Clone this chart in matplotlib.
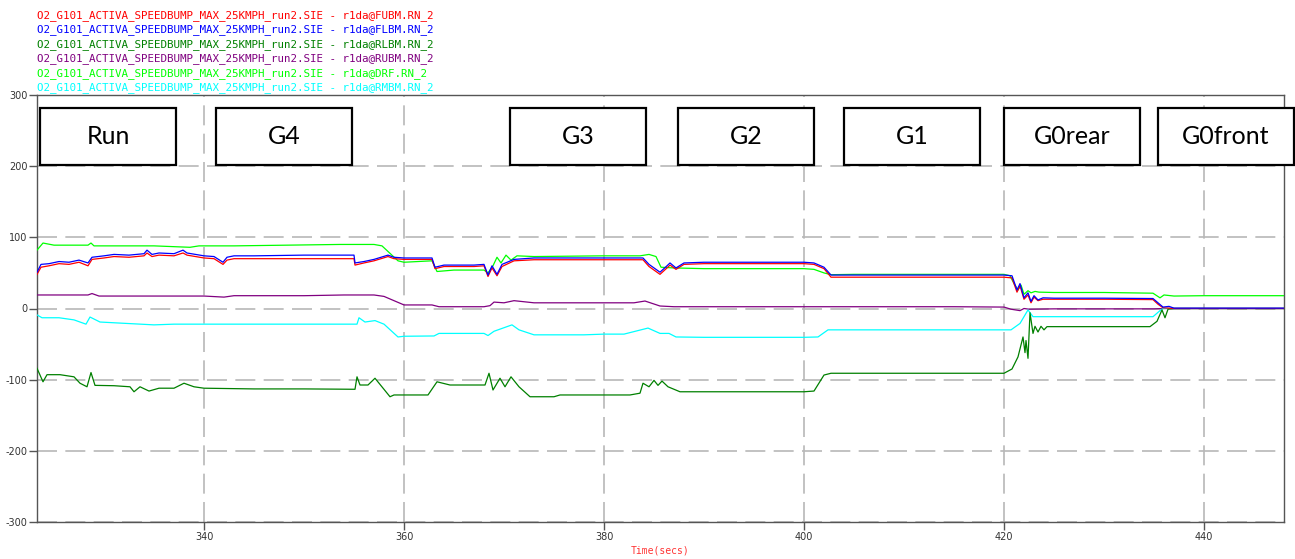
import numpy as np
import matplotlib
matplotlib.use("Agg")
import matplotlib.pyplot as plt
from matplotlib.patches import Rectangle

plt.rcParams['axes.unicode_minus'] = False

SRC = "O2_G101_ACTIVA_SPEEDBUMP_MAX_25KMPH_run2.SIE - r1da@"
channels = ["FUBM.RN_2", "FLBM.RN_2", "RLBM.RN_2", "RUBM.RN_2", "DRF.RN_2", "RMBM.RN_2"]
colors = ["#ff0000", "#0000ff", "#008000", "#800080", "#00ff00", "#00ffff"]

# (time, value) samples
fubm_t = [323.3, 323.7, 324.5, 325.5, 326.5, 327.5, 328.4, 328.8, 330, 331, 332.5, 334, 334.3, 334.8, 335.5, 337,
          337.9, 338.3, 340, 341, 341.9, 342.3, 343, 345, 350, 355, 355.1, 356, 357, 358.4, 359, 360, 362.8, 363.1,
          364, 367, 368, 368.4, 368.8, 369.3, 369.8, 371, 373, 380, 383.9, 384.5, 385.6, 386.3, 386.6, 387.2, 388,
          390, 400, 401, 402, 402.7, 410, 420, 420.8, 421.3, 421.6, 422, 422.4, 422.7, 423, 423.4, 423.9, 430,
          434.9, 435.4, 435.9, 437, 448.1]
fubm_v = [48, 58, 60, 63, 62, 65, 60, 69, 71, 73, 72, 74, 78, 73, 75, 74,
          78, 75, 71, 70, 62, 68, 70, 70, 70, 70, 61, 64, 67, 73, 70, 69, 69, 56,
          59, 59, 60, 45, 57, 46, 59, 67, 68.5, 68.5, 68.5, 59, 48, 57, 61, 55, 62,
          63, 63, 62, 56, 44, 44, 44, 43, 23, 32, 13, 19, 8, 16, 11, 13, 13,
          12.5, 6, 1, 0, 0]

flbm_t = [323.3, 323.7, 324.5, 325.5, 326.5, 327.5, 328.4, 328.8, 330, 331, 332.5, 334, 334.3, 334.8, 335.5, 337,
          337.9, 338.3, 340, 341, 341.9, 342.3, 343, 345, 350, 355, 355.1, 356, 357, 358.4, 359, 360, 362.8, 363.1,
          364, 367, 368, 368.4, 368.8, 369.3, 369.8, 371, 373, 376, 380, 383.9, 384.5, 385.6, 386.3, 386.6, 387.2,
          388, 390, 395, 400, 401, 402, 402.7, 405, 410, 415, 420, 420.8, 421.3, 421.6, 422, 422.4, 422.7, 423,
          423.4, 423.9, 425, 430, 434.9, 435.4, 435.9, 436.5, 437, 440, 448.1]
flbm_v = [51, 62, 63, 66, 65, 68, 64, 72, 74, 76, 75, 77, 82, 76, 78, 77,
          82, 78, 74, 73, 65, 72, 74, 74, 75, 75, 64, 66, 69, 75, 72, 71, 71, 58,
          61, 61, 62, 47, 60, 48, 62, 69, 71, 71, 71, 71, 62, 51, 60, 64, 57,
          64, 65, 65, 65, 64, 58, 47, 47, 47, 47, 47, 46, 26, 35, 15, 22, 10, 18,
          12, 15, 14.5, 14.5, 14, 8, 2, 3, 0.5, 0.5, 0.5]

rlbm_t = [323.3, 323.9, 324.3, 325.6, 327, 327.6, 328.3, 328.7, 329.1, 331, 332.6, 333, 333.6, 334.5, 335.5, 337,
          338, 339, 340, 345, 350, 355.1, 355.3, 355.6, 356.4, 357.1, 358.6, 359, 362.4, 363.3, 364.6, 368.1,
          368.5, 368.9, 369.6, 370.1, 370.7, 371.5, 372.6, 375, 375.6, 382.6, 383.6, 383.9, 384.5, 385, 385.4,
          385.8, 386.4, 387.6, 390, 400, 401, 402, 402.7, 410, 420, 420.8, 421.4, 421.9, 422.1, 422.2, 422.4,
          422.6, 422.9, 423.1, 423.4, 423.7, 424, 424.3, 430, 434.6, 435.3, 435.8, 436.1, 436.4, 437, 448.1]
rlbm_v = [-84, -103, -93, -93, -96, -105, -110, -90, -108, -108.5, -110, -117, -110, -116, -112, -112,
          -105, -110, -112, -113, -113, -113.5, -96, -107.5, -107.5, -98, -124, -121.5, -121.5, -103, -107.5, -107.5,
          -91, -114.5, -98, -110, -96, -110, -124, -124, -121.5, -121.5, -119, -105, -110, -101, -108,
          -102, -110, -117, -117, -117, -116, -93.5, -91, -91, -91, -85, -68, -40, -62, -45, -70,
          -6, -35, -25, -33, -25, -30, -25.5, -25.5, -25.5, -18, -2, -13, -1, 0, 0]

rubm_t = [323.3, 328.4, 328.8, 329.5, 340, 342, 343, 350, 354, 357, 358, 359.5, 360, 362.8, 363.5, 368, 368.6,
          369, 370, 371, 372, 373, 383, 384.1, 385.6, 387, 400, 415, 420, 420.7, 421.6, 422, 422.5, 425, 435,
          436, 448.1]
rubm_v = [19, 19, 21, 17.5, 17.5, 16, 18, 18, 19, 19, 17, 8, 5, 5, 2.5, 2.5, 4,
          9, 8, 11, 9.5, 8, 8, 10.5, 3.5, 2.5, 2.5, 2.5, 2, -1, -3, 0, -1, -0.5, -0.5,
          0, 0]

drf_t = [323.3, 323.9, 325, 328.4, 328.7, 329, 335, 338.6, 339.5, 343, 353.6, 357, 357.8, 359.4, 360, 362.8,
         363.3, 365, 368, 368.4, 368.9, 369.3, 369.7, 370.2, 370.7, 371.3, 373, 380, 383.6, 384.5, 385.2, 385.7,
         387, 390, 400, 401, 402, 402.7, 405, 420, 420.6, 421, 421.4, 421.7, 422, 422.4, 422.7, 423.1, 423.5,
         425, 430, 434.9, 435.6, 436, 437, 440, 448.1]
drf_v = [82, 92, 89, 89, 92, 88, 88, 86, 88, 88, 90, 90, 88, 67, 65, 67,
         52, 54, 54, 50, 60, 72, 64, 75, 68, 74, 73, 74, 74, 76, 73, 58,
         57, 56, 56, 55, 50, 47.5, 48, 48, 46, 35, 26, 33, 20, 25, 22, 24, 23,
         22.5, 22.5, 21.5, 15, 19, 17.5, 18, 18]

rmbm_t = [323.3, 323.8, 325.5, 327, 328.2, 328.6, 329.6, 331.6, 335, 337, 343, 351, 355.3, 355.5, 356.1, 357.1,
          358, 359.4, 360, 363, 363.5, 368, 368.4, 369, 370.8, 371.5, 373, 378, 380, 382, 384.4, 385.6, 386.5,
          387.2, 390, 400, 401.4, 402.4, 410, 420.7, 421.6, 422.4, 422.9, 425, 434.9, 435.6, 435.9, 448.1]
rmbm_v = [-9, -13, -13, -16, -22, -12, -19, -20.5, -23, -22, -22, -22, -22, -13, -19, -17,
          -22, -40, -39, -38.6, -35, -35, -38, -32, -23, -30, -37, -37, -36, -36, -27.5, -35, -35,
          -40, -40.5, -40.5, -40, -30, -30, -30, -21, -2, -11.5, -11.5, -11.5, -3, 0, 0]

series = [(fubm_t, fubm_v), (flbm_t, flbm_v), (rlbm_t, rlbm_v),
          (rubm_t, rubm_v), (drf_t, drf_v), (rmbm_t, rmbm_v)]

phases = ["Run", "G4", "G3", "G2", "G1", "G0rear", "G0front"]
phase_left_px = [40, 216, 510, 678, 844, 1004, 1158]

W, H = 1295, 559
fig = plt.figure(figsize=(W / 100, H / 100), dpi=100)
ax = fig.add_axes([37 / W, 1 - 522 / H, (1284 - 37) / W, (522 - 95) / H])

# draw order: purple/cyan/dkgreen under, then green, red, blue
order = [3, 5, 2, 4, 0, 1]
for i in order:
    t, v = series[i]
    ax.plot(t, v, color=colors[i], lw=0.9, zorder=3)

ax.set_xlim(323.3, 448.0)
ax.set_ylim(-300, 300)
ax.set_xticks(np.arange(340, 441, 20))
ax.set_yticks(np.arange(-300, 301, 100))
ax.grid(True, color="#b8b8b8", lw=1.2, linestyle=(0, (12, 5)), zorder=1)
ax.set_axisbelow(True)
for s in ax.spines.values():
    s.set_color("#555555")
    s.set_linewidth(1.0)
ax.tick_params(axis="both", direction="out", length=6, width=1, color="#555555",
               labelsize=7, labelcolor="#333333", pad=1)
ax.set_xlabel("Time(secs)", family="DejaVu Sans Mono", fontsize=7, color="#ff3333", labelpad=3)

# legend lines as text above the axes
leg_y = [16, 30, 45, 59, 74, 88]
for name, c, yp in zip(channels, colors, leg_y):
    fig.text(37 / W, 1 - yp / H, SRC + name, color=c, family="DejaVu Sans Mono",
             fontsize=7.8, va="center", ha="left")

# phase boxes
bw, btop, bbot = 136, 108, 165
for lab, lp in zip(phases, phase_left_px):
    fig.add_artist(Rectangle((lp / W, 1 - bbot / H), bw / W, (bbot - btop) / H,
                             transform=fig.transFigure, fill=True, facecolor="white",
                             edgecolor="black", lw=1.6, zorder=5))
    fig.text((lp + bw / 2) / W, 1 - (btop + bbot) / 2 / H, lab, family="Lato",
             fontsize=18, ha="center", va="center", color="black", zorder=6)

fig.savefig("out.png", dpi=100)
